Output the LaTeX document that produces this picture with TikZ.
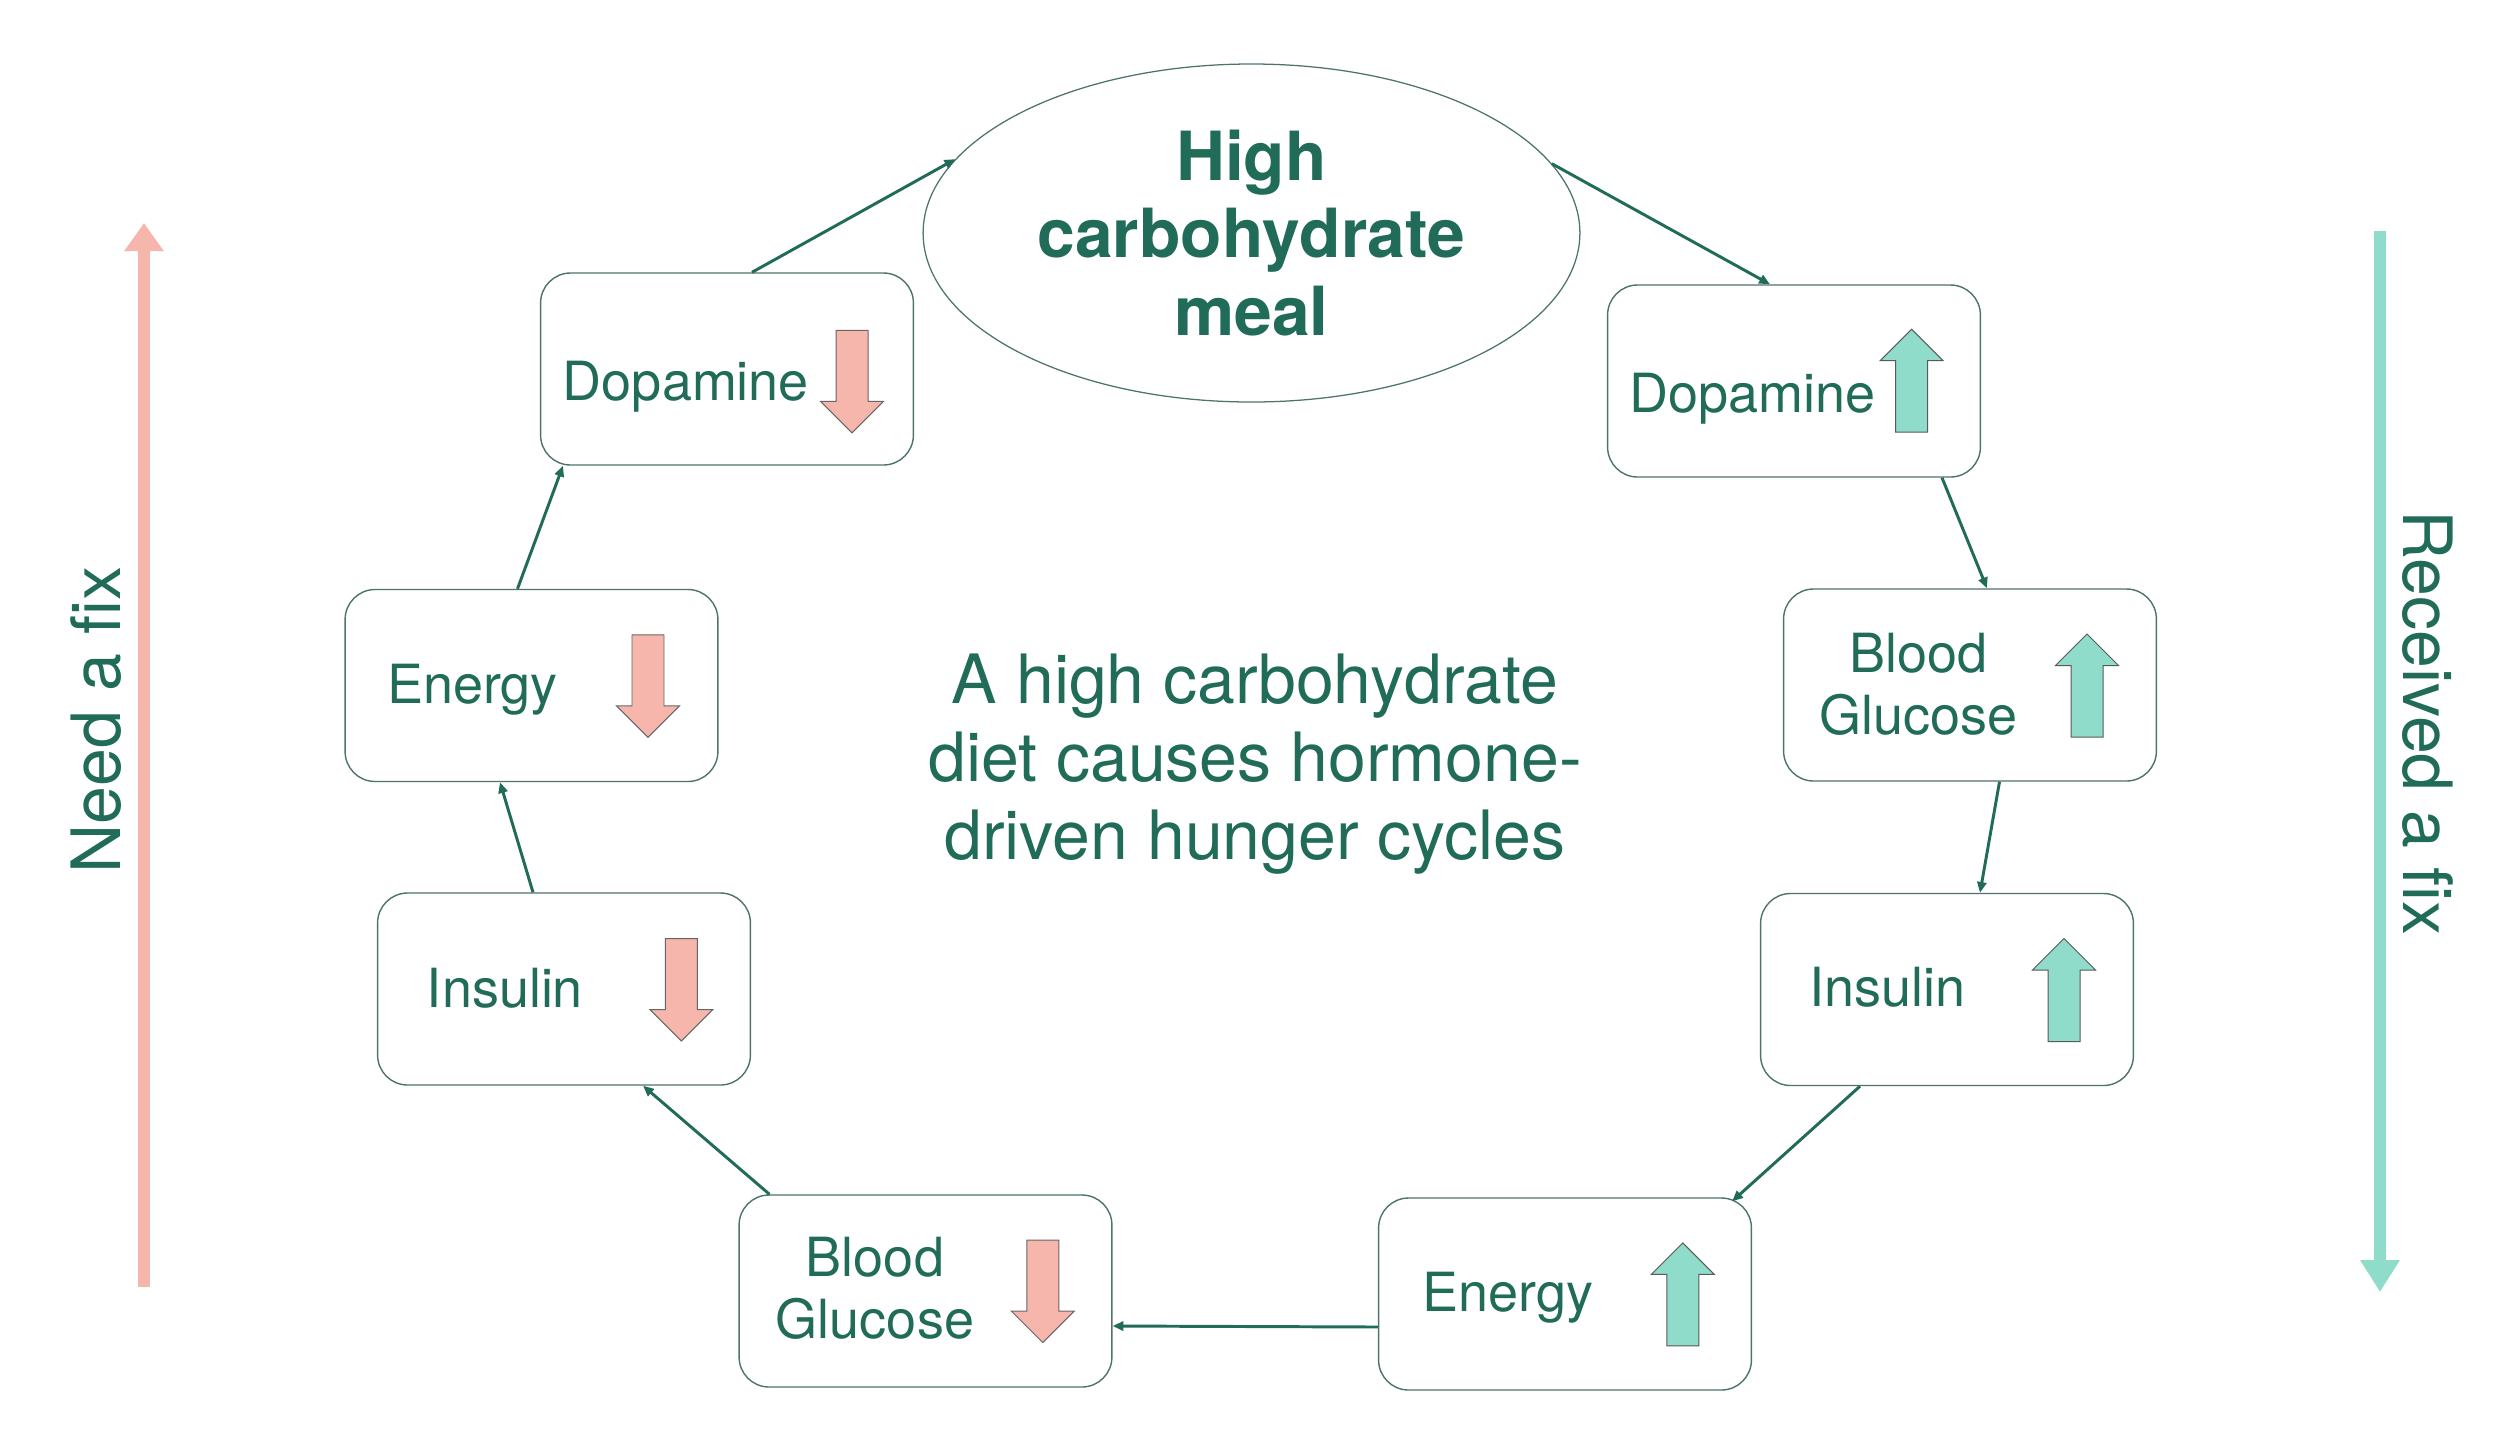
\documentclass[tikz,border=0pt]{standalone}
\usepackage{fontspec}
\setmainfont{TeX Gyre Heros}
\usetikzlibrary{arrows.meta,shapes.geometric,calc}
\definecolor{txtgreen}{HTML}{216B59}
\definecolor{lowpink}{HTML}{F6B6AC}
\definecolor{highteal}{HTML}{8FDCCA}
\definecolor{edgegray}{HTML}{4E7369}

\begin{document}
\begin{tikzpicture}[x = 0.125mm, y = -0.125mm,
    box/.style = {draw = edgegray, line width = 0.5pt, rounded corners = 3.75mm,
        minimum width = 46.6mm, minimum height = 24mm, inner sep = 0pt},
    lbl/.style = {text = txtgreen, inner sep = 0pt, align = center,
        font = \fontsize{19.2}{22}\selectfont},
    big/.style = {text = txtgreen, inner sep = 0pt, align = center,
        font = \fontsize{24.2}{27.6}\selectfont},
    conn/.style = {txtgreen, line width = 1.05pt, -{Triangle[length = 1.35mm, width = 1.15mm]}},
    dnarr/.pic = {\filldraw[fill = lowpink, draw = gray!80!black, line width = 0.35pt]
        (-16,-51) -- (16,-51) -- (16,20) -- (31.5,20) -- (0,51.5) -- (-31.5,20) -- (-16,20) -- cycle;},
    uparr/.pic = {\filldraw[fill = highteal, draw = gray!70!black, line width = 0.35pt]
        (-16,51.5) -- (16,51.5) -- (16,-20) -- (31.5,-20) -- (0,-51.5) -- (-31.5,-20) -- (-16,-20) -- cycle;}
]
    \useasboundingbox (0,0) rectangle (2500,1438);

    \node[ellipse, draw = edgegray, line width = 0.45pt, minimum width = 82.1mm, minimum height = 42.25mm,
        inner sep = 0pt, text = txtgreen, align = center, font = \fontsize{24.1}{27.6}\selectfont\bfseries]
        (meal) at (1251.5,233) {High\\carbohydrate\\meal};

    \node[box] (dopLow) at (727,369) {};
    \node[box] (dopHigh) at (1794,381) {};
    \node[box] (bgHigh) at (1970,685) {};
    \node[box] (insHigh) at (1947,989.5) {};
    \node[box] (enHigh) at (1565,1294) {};
    \node[box] (bgLow) at (925.5,1291) {};
    \node[box] (insLow) at (564,989) {};
    \node[box] (enLow) at (531.5,685.5) {};

    \node[lbl, anchor = base] (dopLowTxt) at (686,400) {Dopamine};
    \node[lbl, anchor = base] (dopHighTxt) at (1752.5,412.6) {Dopamine};
    \node[lbl] (bgHighTxt) at (1918.5,684.4) {Blood\\Glucose};
    \node[lbl, anchor = base] (insHighTxt) at (1887.5,1006) {Insulin};
    \node[lbl, anchor = base] (enHighTxt) at (1507.6,1311.7) {Energy};
    \node[lbl] (bgLowTxt) at (875,1288.5) {Blood\\Glucose};
    \node[lbl, anchor = base] (insLowTxt) at (505,1007) {Insulin};
    \node[lbl, anchor = base] (enLowTxt) at (472.5,703.7) {Energy};

    \pic at (852,381.4) {dnarr};
    \pic at (1911.6,380.7) {uparr};
    \pic at (2087,685.5) {uparr};
    \pic at (2064,990) {uparr};
    \pic at (1682.8,1294.4) {uparr};
    \pic at (1042.8,1291) {dnarr};
    \pic at (681.4,989.5) {dnarr};
    \pic at (648,685.8) {dnarr};

    \draw[conn] ($(dopLow.north)+(25,0)$) -- (meal.166);
    \draw[conn] (meal.13) -- ($(dopHigh.north)+(-24,0)$);
    \draw[conn] ($(dopHigh.south)+(148,0)$) -- ($(bgHigh.north)+(17,0)$);
    \draw[conn] ($(bgHigh.south)+(29.5,0)$) -- ($(insHigh.north)+(33,0)$);
    \draw[conn] ($(insHigh.south)+(-87,0)$) -- ($(enHigh.north east)+(-20,4)$);
    \draw[conn] ($(enHigh.west)+(0,33)$) -- ($(bgLow.east)+(0,35)$);
    \draw[conn] ($(bgLow.north)+(-156,0)$) -- ($(insLow.south)+(79,0)$);
    \draw[conn] ($(insLow.north)+(-31,0)$) -- ($(enLow.south)+(-31.5,0)$);
    \draw[conn] ($(enLow.north)+(-14,0)$) -- ($(dopLow.south)+(-164,0)$);

    \node[big] (summary) at (1255,764) {A high carbohydrate\\diet causes hormone-\\driven hunger cycles};

    \coordinate (needBot) at (144,1287);
    \coordinate (needTop) at (144,223);
    \coordinate (gotTop) at (2380,231);
    \coordinate (gotBot) at (2380,1292);
    \draw[lowpink, line width = 4.4pt, -{Triangle[length = 3.5mm, width = 4.7mm]}] (needBot) -- (needTop);
    \draw[highteal, line width = 4.4pt, -{Triangle[length = 4mm, width = 4.7mm]}] (gotTop) -- (gotBot);
    \node[big, rotate = 90] (needfix) at (96,720) {Need a fix};
    \node[big, rotate = -90] (gotfix) at (2428,722.8) {Received a fix};
\end{tikzpicture}
\end{document}
